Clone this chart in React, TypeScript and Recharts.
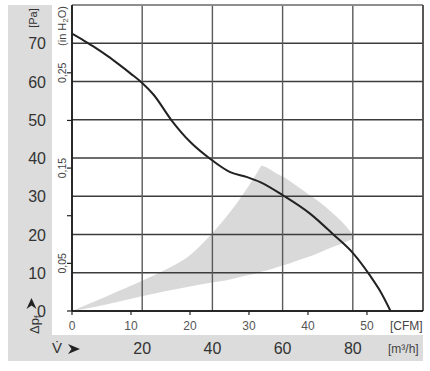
import {
  ComposedChart,
  Line,
  Area,
  XAxis,
  YAxis,
  CartesianGrid,
  ReferenceLine,
} from 'recharts'

// Kennlinie: Volumenstrom [CFM] -> Druck [Pa]
const kurveCfm = [0, 2, 4, 6, 8, 10, 11.9, 13.8, 16.9, 20.1, 23.4, 26.8, 29.7, 31.9, 35.8, 40.4, 44.3, 47.7, 50.5, 52.4, 54.0]
const kurvePa = [72.5, 70.7, 68.8, 66.7, 64.4, 62.0, 59.6, 56.6, 49.8, 44.1, 39.8, 36.3, 35.0, 33.7, 30.2, 25.4, 20.0, 15.0, 9.3, 4.8, 0]

// Arbeitsbereich (graue Fläche): untere und obere Grenze
const bereichCfm = [0, 4, 8, 12, 16, 20, 24, 26, 28, 30, 31.4, 32.2, 33, 34.5, 36, 38, 40.4, 42, 44.3, 46.6, 47.7]
const bereichUnten = [0, 1.1, 2.5, 3.9, 5.2, 6.4, 7.5, 8.0, 8.7, 9.4, 9.9, 10.3, 10.6, 11.3, 12.0, 13.1, 14.3, 15.3, 16.8, 18.2, 18.9]
const bereichOben = [0, 2.6, 5.3, 8.0, 10.9, 14.6, 20.7, 24.3, 28.3, 32.8, 36.2, 38.0, 37.5, 36.1, 34.9, 32.8, 30.2, 28.4, 25.4, 21.9, 19.8]

const ticksPa = [0, 10, 20, 30, 40, 50, 60, 70]
const ticksInH2O = [0, 0.05, 0.1, 0.15, 0.2, 0.25]
const labelsInH2O = [0.05, 0.15, 0.25]
const ticksCfm = [0, 10, 20, 30, 40, 50]
const ticksM3h = [20, 40, 60, 80]

const PA_MAX = 80
const CFM_MAX = 59.5
const M3H_MAX = 100
const PA_PRO_INH2O = 249.089
const M3H_PRO_CFM = 1.699

const kurve = kurveCfm.map((cfm, i) => ({ cfm, pa: kurvePa[i] }))
// dieselbe Kennlinie in m³/h, nur damit die m³/h-Achse Daten hat
const kurveM3h = kurveCfm.map((cfm, i) => ({ m3h: cfm * M3H_PRO_CFM, pa: kurvePa[i] }))
const bereich = bereichCfm.map((cfm, i) => ({ cfm, range: [bereichUnten[i], bereichOben[i]] }))

const FONT = '"Liberation Sans", Arial, sans-serif'
const GRAU = '#dcdcdc'

function PaTick({ y, payload }: any) {
  return (
    <text x={46} y={y + 6} textAnchor="end" fontSize={16} fill="#333" fontFamily={FONT}>
      {payload.value}
    </text>
  )
}

function InH2OTick({ y, payload }: any) {
  const v = payload.value
  const zeigen = labelsInH2O.some((l) => Math.abs(l - v) < 1e-6)
  return (
    <g>
      <line x1={67} x2={72} y1={y} y2={y} stroke="#222" strokeWidth={1.2} />
      {zeigen && (
        <text
          x={66}
          y={y}
          textAnchor="middle"
          fontSize={10.5}
          fill="#444"
          fontFamily={FONT}
          transform={`rotate(-90, 66, ${y})`}
        >
          {v.toFixed(2).replace('.', ',')}
        </text>
      )}
    </g>
  )
}

function CfmTick({ x, payload }: any) {
  return (
    <g>
      <line x1={x} x2={x} y1={311} y2={315} stroke="#222" strokeWidth={1.2} />
      <text x={x} y={330} textAnchor="middle" fontSize={12} fill="#555" fontFamily={FONT}>
        {payload.value}
      </text>
    </g>
  )
}

function M3hTick({ x, payload }: any) {
  return (
    <text x={x} y={354} textAnchor="middle" fontSize={16} fill="#333" fontFamily={FONT}>
      {payload.value}
    </text>
  )
}

export default function App() {
  return (
    <div style={{ position: 'absolute', left: 0, top: 0, width: 430, height: 371, background: '#fff' }}>
      {/* graue Randflächen */}
      <div style={{ position: 'absolute', left: 8, top: 5, width: 44, height: 356, background: GRAU }} />
      <div style={{ position: 'absolute', left: 8, top: 335, width: 415, height: 26, background: GRAU }} />

      <div style={{ position: 'absolute', left: 0, top: 0 }}>
        <ComposedChart width={430} height={371} margin={{ top: 5, right: 7, left: 0, bottom: 0 }}>
          <XAxis
            xAxisId="cfm"
            type="number"
            dataKey="cfm"
            domain={[0, CFM_MAX]}
            allowDataOverflow
            ticks={ticksCfm}
            interval={0}
            axisLine={false}
            tickLine={false}
            height={30}
            tick={<CfmTick />}
          />
          <XAxis
            xAxisId="m3h"
            type="number"
            dataKey="m3h"
            domain={[0, M3H_MAX]}
            allowDataOverflow
            ticks={ticksM3h}
            interval={0}
            axisLine={false}
            tickLine={false}
            height={30}
            tick={<M3hTick />}
          />
          <YAxis
            yAxisId="inh2o"
            type="number"
            domain={[0, PA_MAX / PA_PRO_INH2O]}
            allowDataOverflow
            ticks={ticksInH2O}
            interval={0}
            axisLine={false}
            tickLine={false}
            width={25}
            tick={<InH2OTick />}
          />
          <YAxis
            yAxisId="pa"
            type="number"
            domain={[0, PA_MAX]}
            allowDataOverflow
            ticks={ticksPa}
            interval={0}
            axisLine={false}
            tickLine={false}
            width={47}
            tick={<PaTick />}
          />

          <Area
            data={bereich}
            xAxisId="cfm"
            yAxisId="pa"
            dataKey="range"
            type="monotone"
            stroke="none"
            fill="#d9d9d9"
            fillOpacity={1}
            isAnimationActive={false}
          />

          <CartesianGrid xAxisId="m3h" yAxisId="pa" vertical={false} stroke="#3c3c3c" strokeWidth={1.4} zIndex={150} />
          <CartesianGrid xAxisId="m3h" yAxisId="pa" horizontal={false} stroke="#5a5a5a" strokeWidth={1.4} zIndex={150} />
          <ReferenceLine xAxisId="cfm" yAxisId="pa" y={PA_MAX} stroke="#9a9a9a" strokeWidth={1.4} />
          <ReferenceLine xAxisId="m3h" yAxisId="pa" x={M3H_MAX} stroke="#444" strokeWidth={1.4} />
          <ReferenceLine xAxisId="cfm" yAxisId="pa" x={0} stroke="#111" strokeWidth={1.6} />
          <ReferenceLine xAxisId="cfm" yAxisId="pa" y={0} stroke="#111" strokeWidth={1.6} />

          {/* unsichtbar: bindet die m³/h-Achse an Daten */}
          <Line
            data={kurveM3h}
            xAxisId="m3h"
            yAxisId="pa"
            dataKey="pa"
            stroke="none"
            dot={false}
            activeDot={false}
            isAnimationActive={false}
          />
          <Line
            data={kurve}
            xAxisId="cfm"
            yAxisId="pa"
            dataKey="pa"
            type="monotone"
            stroke="#222"
            strokeWidth={2}
            dot={false}
            isAnimationActive={false}
          />
        </ComposedChart>
      </div>

      {/* Achsentitel und Pfeile */}
      <svg width={430} height={371} style={{ position: 'absolute', left: 0, top: 0, pointerEvents: 'none' }}>
        <g fontFamily={FONT}>
          <text x={37} y={18} textAnchor="middle" fontSize={11} fill="#333" transform="rotate(-90, 37, 18)">
            [Pa]
          </text>
          <text x={66} y={26} textAnchor="middle" fontSize={11} fill="#444" transform="rotate(-90, 66, 26)">
            (in H<tspan fontSize={8} dy={2}>2</tspan>
            <tspan dy={-2}>O)</tspan>
          </text>
          <text x={39} y={334} textAnchor="start" fontSize={13} fill="#333" transform="rotate(-90, 39, 334)">
            Δp<tspan fontSize={9} dy={2}>f</tspan>
          </text>
          <polygon points="31.5,298 36.5,309 31.5,305.5 26.5,309" fill="#222" />

          <text x={57} y={353} textAnchor="middle" fontSize={15} fill="#333">
            V̇
          </text>
          <polygon points="80,349 68,344 71.5,349 68,354" fill="#222" />

          <text x={390} y={330} fontSize={12} fill="#444">
            [CFM]
          </text>
          <text x={388} y={353} fontSize={12} fill="#444">
            [m³/h]
          </text>
        </g>
      </svg>
    </div>
  )
}
